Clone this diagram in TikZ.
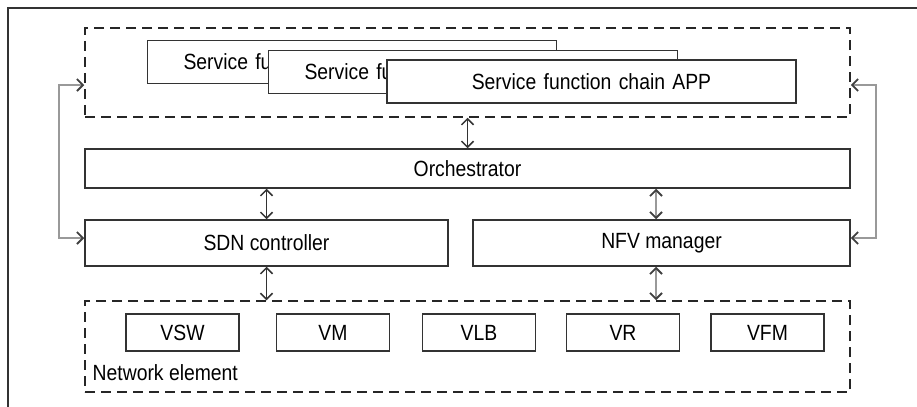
\documentclass[tikz,border=0pt]{standalone}
\usepackage{fontspec}
\setmainfont{Liberation Sans}[FakeStretch=0.88]
\usepackage{tikz}
\usetikzlibrary{arrows.meta,positioning,calc}

\begin{document}
\begin{tikzpicture}[
  x=0.5pt, y=-0.5pt,
  font=\fontsize{11}{12}\selectfont,
  box/.style={draw=black!80, line width=0.75pt, fill=white, inner sep=0pt, align=center},
  dbox/.style={draw=black!85, line width=0.75pt, dash pattern=on 5pt off 3pt, inner sep=0pt},
  sfc/.style={box, inner xsep=18pt, text width=168.5pt, minimum height=21.5pt},
  ve/.style={box, minimum width=56.5pt, minimum height=18.5pt},
  darr/.style={{Straight Barb[length=3pt,width=6pt]}-{Straight Barb[length=3pt,width=6pt]}, draw=black!80, line width=0.75pt},
  garr/.style={{Straight Barb[length=3pt,width=6pt,color=black!75]}-{Straight Barb[length=3pt,width=6pt,color=black!75]}, draw=black!40, line width=0.9pt}
]
  \useasboundingbox (0,0) rectangle (917,407);
  \draw[black!80, line width=0.8pt] (8,407) -- (8,8) -- (917,8);

  \node[dbox, minimum width=382.5pt, minimum height=44.5pt] (apps) at (467.5,72.5) {};
  \node[sfc, align=left] (sfc1) at (352,62) {Service fu};
  \node[sfc, align=left] (sfc2) at (473,72) {Service fu};
  \node[sfc] (sfc3) at (591.5,81.5) {Service function chain APP};

  \node[box, minimum width=382.5pt, minimum height=19.5pt] (orch) at (467.5,168.5) {Orchestrator};
  \node[box, minimum width=181.5pt, minimum height=23pt] (sdn) at (266.5,243) {SDN controller};
  \node[box, minimum width=188.5pt, minimum height=23pt] (nfv) at (661.5,243) {NFV manager};

  \node[dbox, minimum width=382.5pt, minimum height=45.5pt] (ne) at (467.5,346.5) {};
  \node[ve] (vsw) at (182.5,332.5) {VSW};
  \node[ve] (vm) at (333,332.5) {VM};
  \node[ve] (vlb) at (479,332.5) {VLB};
  \node[ve] (vr) at (623,332.5) {VR};
  \node[ve] (vfm) at (767.5,332.5) {VFM};
  \node[anchor=west, inner sep=0pt] (nelabel) at ($(ne.south west)+(8,-20)$) {Network element};

  \draw[darr] (apps.south) -- (orch.north);
  \draw[darr] (sdn.north |- orch.south) -- (sdn.north);
  \draw[garr] ([xshift=-2.75pt]nfv.north |- orch.south) -- ([xshift=-2.75pt]nfv.north);
  \draw[darr] (sdn.south) -- (sdn.south |- ne.north);
  \draw[garr] ([xshift=-2.75pt]nfv.south) -- ([xshift=-2.75pt]nfv.south |- ne.north);
  \draw[garr] ($(apps.west)+(0,12.5)$) -- ++(-25,0) |- ($(sdn.west)+(0,-5)$);
  \draw[garr] ($(apps.east)+(0,12.5)$) -- ++(25,0) |- ($(nfv.east)+(0,-5)$);
\end{tikzpicture}
\end{document}
